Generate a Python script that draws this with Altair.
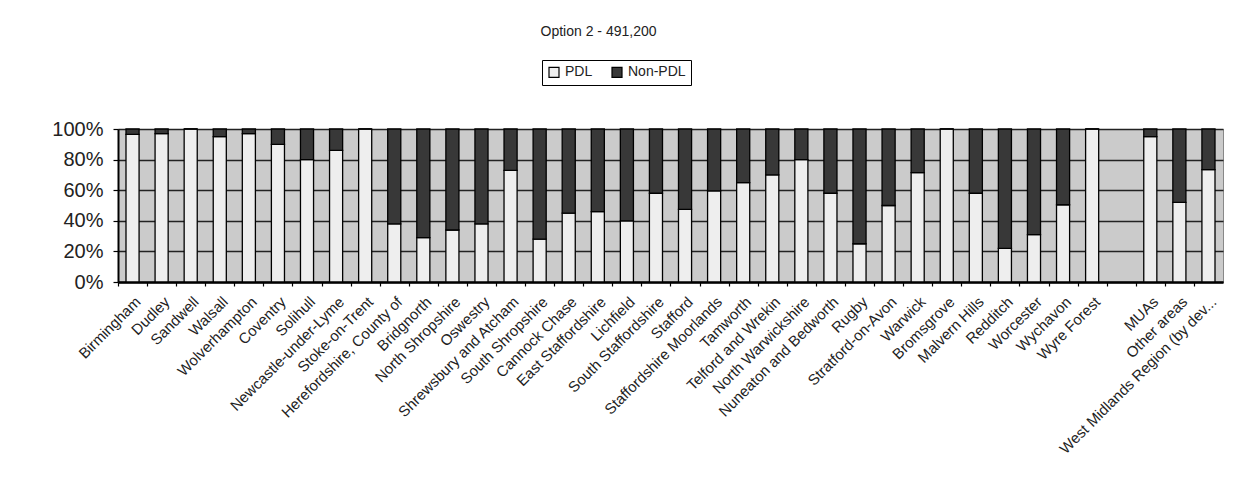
import altair as alt
import pandas as pd

categories = [
    "Birmingham", "Dudley", "Sandwell", "Walsall", "Wolverhampton", "Coventry",
    "Solihull", "Newcastle-under-Lyme", "Stoke-on-Trent", "Herefordshire, County of",
    "Bridgnorth", "North Shropshire", "Oswestry", "Shrewsbury and Atcham",
    "South Shropshire", "Cannock Chase", "East Staffordshire", "Lichfield",
    "South Staffordshire", "Stafford", "Staffordshire Moorlands", "Tamworth",
    "Telford and Wrekin", "North Warwickshire", "Nuneaton and Bedworth", "Rugby",
    "Stratford-on-Avon", "Warwick", "Bromsgrove", "Malvern Hills", "Redditch",
    "Worcester", "Wychavon", "Wyre Forest", " ", "MUAs", "Other areas",
    "West Midlands Region (by dev...",
]
pdl_pct = [
    96.5, 97, 100, 95, 97, 90,
    80, 86, 100, 38,
    29, 34, 38, 73,
    28, 45, 46, 40,
    58, 47.5, 59.5, 65,
    70, 80, 58, 25,
    50, 71.5, 100, 58, 22,
    31, 50.5, 100, None, 95, 52,
    73.5,
]
series = ["PDL", "Non-PDL"]
series_colors = ["#eeeeee", "#383838"]
y_ticks = [0, 0.2, 0.4, 0.6, 0.8, 1.0]

rows = []
for cat, p in zip(categories, pdl_pct):
    if p is None:
        continue
    rows.append({"area": cat, "series": "PDL", "share": p / 100.0, "ord": 0})
    rows.append({"area": cat, "series": "Non-PDL", "share": (100 - p) / 100.0, "ord": 1})
df = pd.DataFrame(rows)

FONT = "Liberation Sans"
W, H = 1105, 153
step = W / len(categories)

chart = alt.Chart(df).mark_bar(stroke="black", strokeWidth=1.3).encode(
    x=alt.X(
        "area:N",
        sort=categories,
        scale=alt.Scale(domain=categories, paddingInner=0.55, paddingOuter=0.275),
        axis=alt.Axis(
            title=None, labelAngle=-45, labelFontSize=15, labelFont=FONT,
            labelColor="#222", labelLimit=400, tickSize=4, tickColor="black",
            tickWidth=1.2, domainColor="black", domainWidth=2.5,
            tickOffset=-step / 2, labelOffset=step / 2, labelPadding=8,
        ),
    ),
    y=alt.Y(
        "share:Q",
        stack="zero",
        scale=alt.Scale(domain=[0, 1]),
        axis=alt.Axis(
            title=None, format=".0%", values=y_ticks, labelFontSize=20,
            labelFont=FONT, labelColor="#222", tickSize=5, tickColor="black",
            tickWidth=1.2, domainColor="black", domainWidth=2, labelPadding=10,
            grid=True, gridColor="#222", gridWidth=1.5,
        ),
    ),
    color=alt.Color(
        "series:N",
        scale=alt.Scale(domain=series, range=series_colors),
        legend=alt.Legend(
            title=None, orient="none", legendX=424, legendY=-69,
            direction="horizontal", strokeColor="black", padding=5,
            symbolType="square", symbolSize=100, symbolStrokeColor="black",
            symbolStrokeWidth=1.2, labelFontSize=14, labelFont=FONT,
            labelColor="#222", columnPadding=16, symbolOpacity=1,
        ),
    ),
    order=alt.Order("ord:Q"),
).properties(
    width=W,
    height=H,
    title=alt.TitleParams(
        "Option 2 - 491,200", fontSize=14, font=FONT, fontWeight="normal",
        color="#222", offset=21, dx=-72, anchor="middle",
    ),
    autosize="none",
    padding={"left": 110, "top": 121, "right": 3, "bottom": 195},
).configure_view(
    fill="#cbcbcb", stroke="#888", strokeWidth=1
)

chart.save("out.html", embed_options={"renderer": "svg", "actions": False})
